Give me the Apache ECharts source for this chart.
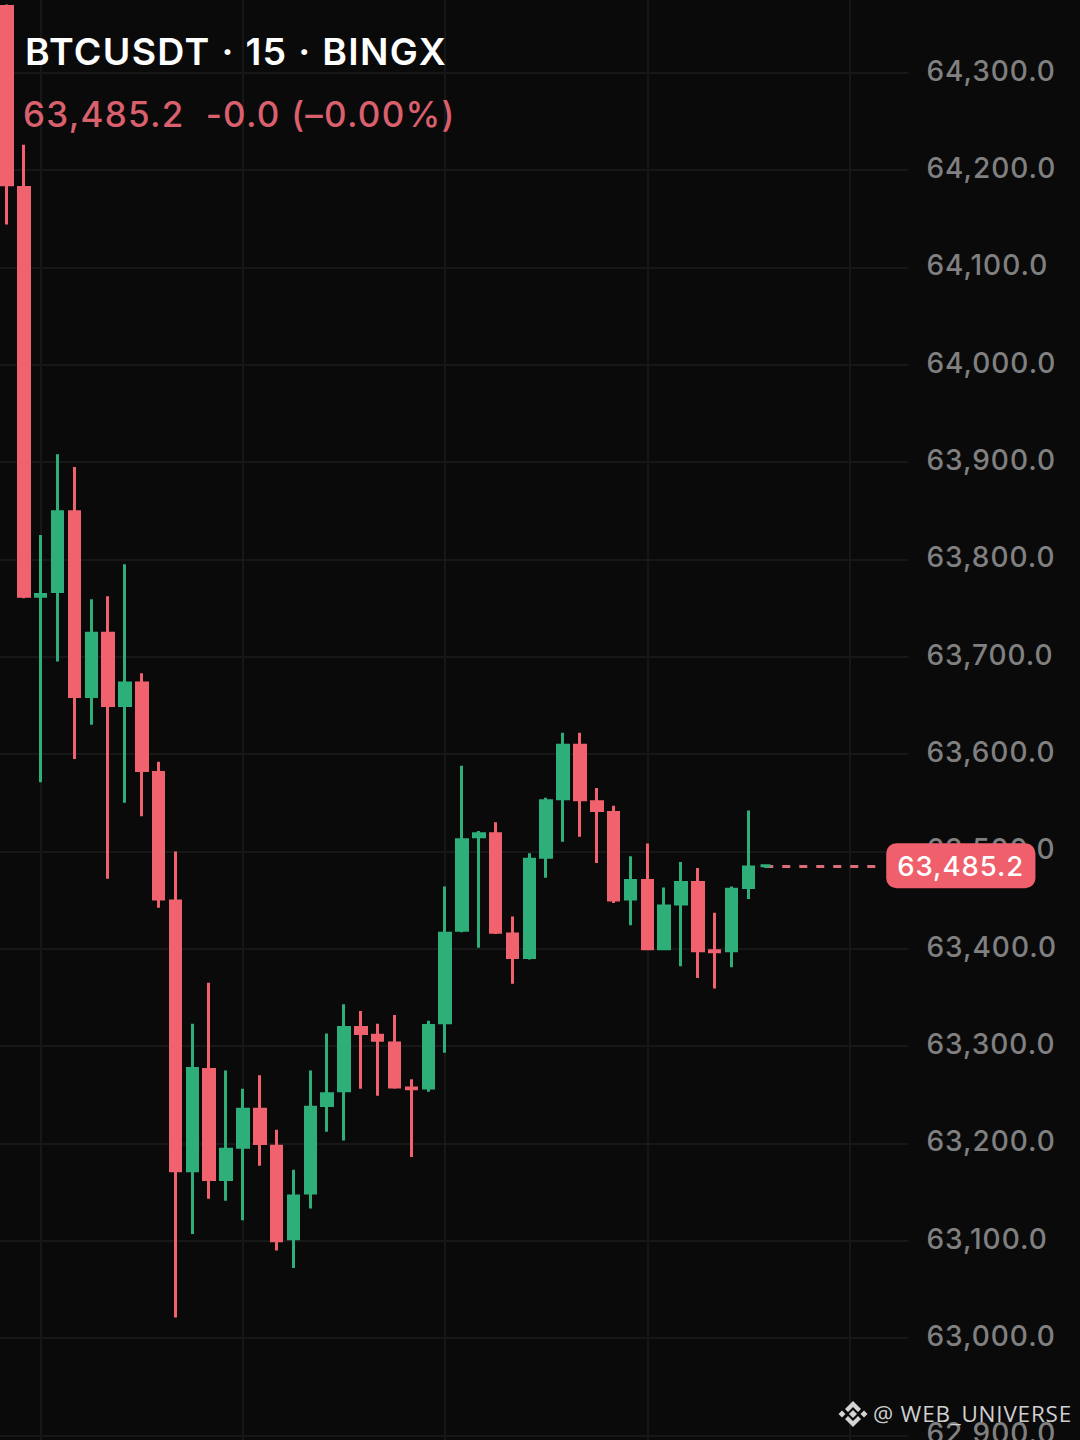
<!DOCTYPE html>
<html><head><meta charset="utf-8">
<style>html,body{margin:0;padding:0;background:#0a0a0b;overflow:hidden}#c{width:1080px;height:1440px}svg text{letter-spacing:.035em}</style>
<script src="https://cdn.jsdelivr.net/npm/echarts@6/dist/echarts.min.js"></script>
</head><body><div id="c"></div>
<script>
// [open, close, low, high]
const candles = [
[64368,64185,64144,64370],[64182,63762,63760,64226],[63762,63764,63571,63825],[63767,63849,63695,63908],
[63849,63659,63595,63895],[63659,63724,63630,63759],[63724,63650,63472,63762],[63650,63673,63550,63795],
[63673,63583,63536,63683],[63581,63451,63442,63592],[63449,63172,63021,63500],[63172,63277,63107,63323],
[63276,63163,63143,63365],[63163,63194,63141,63275],[63196,63235,63121,63256],[63235,63200,63177,63270],
[63197,63100,63090,63214],[63102,63146,63072,63173],[63149,63237,63133,63275],[63239,63251,63212,63313],
[63254,63319,63203,63343],[63319,63313,63256,63336],[63311,63306,63249,63323],[63303,63258,63256,63332],
[63257,63256,63186,63266],[63257,63321,63253,63326],[63324,63416,63293,63464],[63419,63512,63417,63588],
[63515,63518,63401,63521],[63518,63417,63415,63530],[63415,63391,63364,63433],[63391,63492,63389,63498],
[63494,63552,63473,63555],[63554,63609,63510,63622],[63609,63553,63515,63622],[63551,63542,63488,63565],
[63540,63450,63447,63547],[63451,63470,63424,63495],[63470,63400,63399,63508],[63400,63444,63399,63463],
[63446,63468,63382,63489],[63468,63398,63370,63483],[63398,63397,63359,63437],[63398,63461,63381,63464],
[63463,63484,63451,63542],[63485.2,63485.2,63483,63486]
];
const slots = 54;
const categories = Array.from({length:slots},(_,i)=>String(i));
const lastPrice = 63485.2;
const lastPriceText = '63,485.2';
const titleText = 'BTCUSDT · 15 · BINGX';
const quoteText = '63,485.2  -0.0 (–0.00%)';
const watermarkText = '@ WEB_UNIVERSE';
const UP='#2EAF79', DOWN='#F0626E', BG='#0a0a0b', GRID='#171718', FONT='Inter, "Noto Sans", sans-serif';
const priceMin=62800, priceMax=64400, priceStep=100;

const poly=(points)=>({type:'polygon',shape:{points},style:{fill:'#d4d4d4'},z:20,silent:true});
const chart=echarts.init(document.getElementById('c'),null,{width:1080,height:1440,renderer:'svg'});
chart.setOption({
  animation:false,backgroundColor:BG,
  grid:{left:-1.425,width:909.9,top:-24.6,height:1557.3,containLabel:false,outerBoundsMode:'none'},
  xAxis:{type:'category',data:categories,boundaryGap:true,
    axisLine:{show:false},axisTick:{show:false},axisLabel:{show:false},
    splitLine:{show:true,alignWithLabel:true,interval:(i)=>(i%12)===2,lineStyle:{color:GRID,width:2}}},
  yAxis:{type:'value',position:'right',min:priceMin,max:priceMax,interval:priceStep,scale:true,
    axisLine:{show:false},axisTick:{show:false},
    splitLine:{show:true,lineStyle:{color:GRID,width:2}},
    axisLabel:{margin:18,
      rich:{p:{color:'#808080',fontFamily:FONT,fontSize:28,fontWeight:500,padding:[0,0,4,0]}},
      formatter:(v)=>(v===priceMin||v===priceMax)?'':'{p|'+v.toLocaleString('en-US',{minimumFractionDigits:1,maximumFractionDigits:1})+'}'}},
  series:[{type:'candlestick',data:candles,barWidth:11,z:5,
    itemStyle:{color:UP,color0:DOWN,borderColor:UP,borderColor0:DOWN,borderWidth:3},
    markLine:{silent:true,symbol:'none',animation:false,
      lineStyle:{color:'#dd6d79',width:3,type:[8,9]},
      label:{show:true,position:'end',distance:3,formatter:lastPriceText,color:'#fff',
        fontFamily:FONT,fontSize:27.5,fontWeight:500,backgroundColor:'#EF5F6C',borderRadius:10,padding:[8,19,9,11]},
      data:[[{coord:['45',lastPrice]},{coord:['52',lastPrice]}]]}}],
  graphic:[
    {type:'text',x:25,y:51,style:{text:titleText,fill:'#fff',font:'600 37.5px '+FONT,textVerticalAlign:'middle'},z:20,silent:true},
    {type:'text',x:23,y:114,style:{text:quoteText,fill:'#D9606C',font:'500 35px '+FONT,textVerticalAlign:'middle'},z:20,silent:true},
    {type:'text',x:873,y:1413,style:{text:watermarkText,fill:'#cfcfcf',font:'400 22.5px "Open Sans", sans-serif',textVerticalAlign:'middle'},z:20,silent:true},
    poly([[853,1401],[861,1409],[858,1412],[853,1407],[848,1412],[845,1409]]),
    poly([[853,1427],[861,1419],[858,1416],[853,1421],[848,1416],[845,1419]]),
    poly([[853,1410],[857,1414],[853,1418],[849,1414]]),
    poly([[842,1410.5],[845.5,1414],[842,1417.5],[838.5,1414]]),
    poly([[864,1410.5],[867.5,1414],[864,1417.5],[860.5,1414]])
  ]
});
</script></body></html>
